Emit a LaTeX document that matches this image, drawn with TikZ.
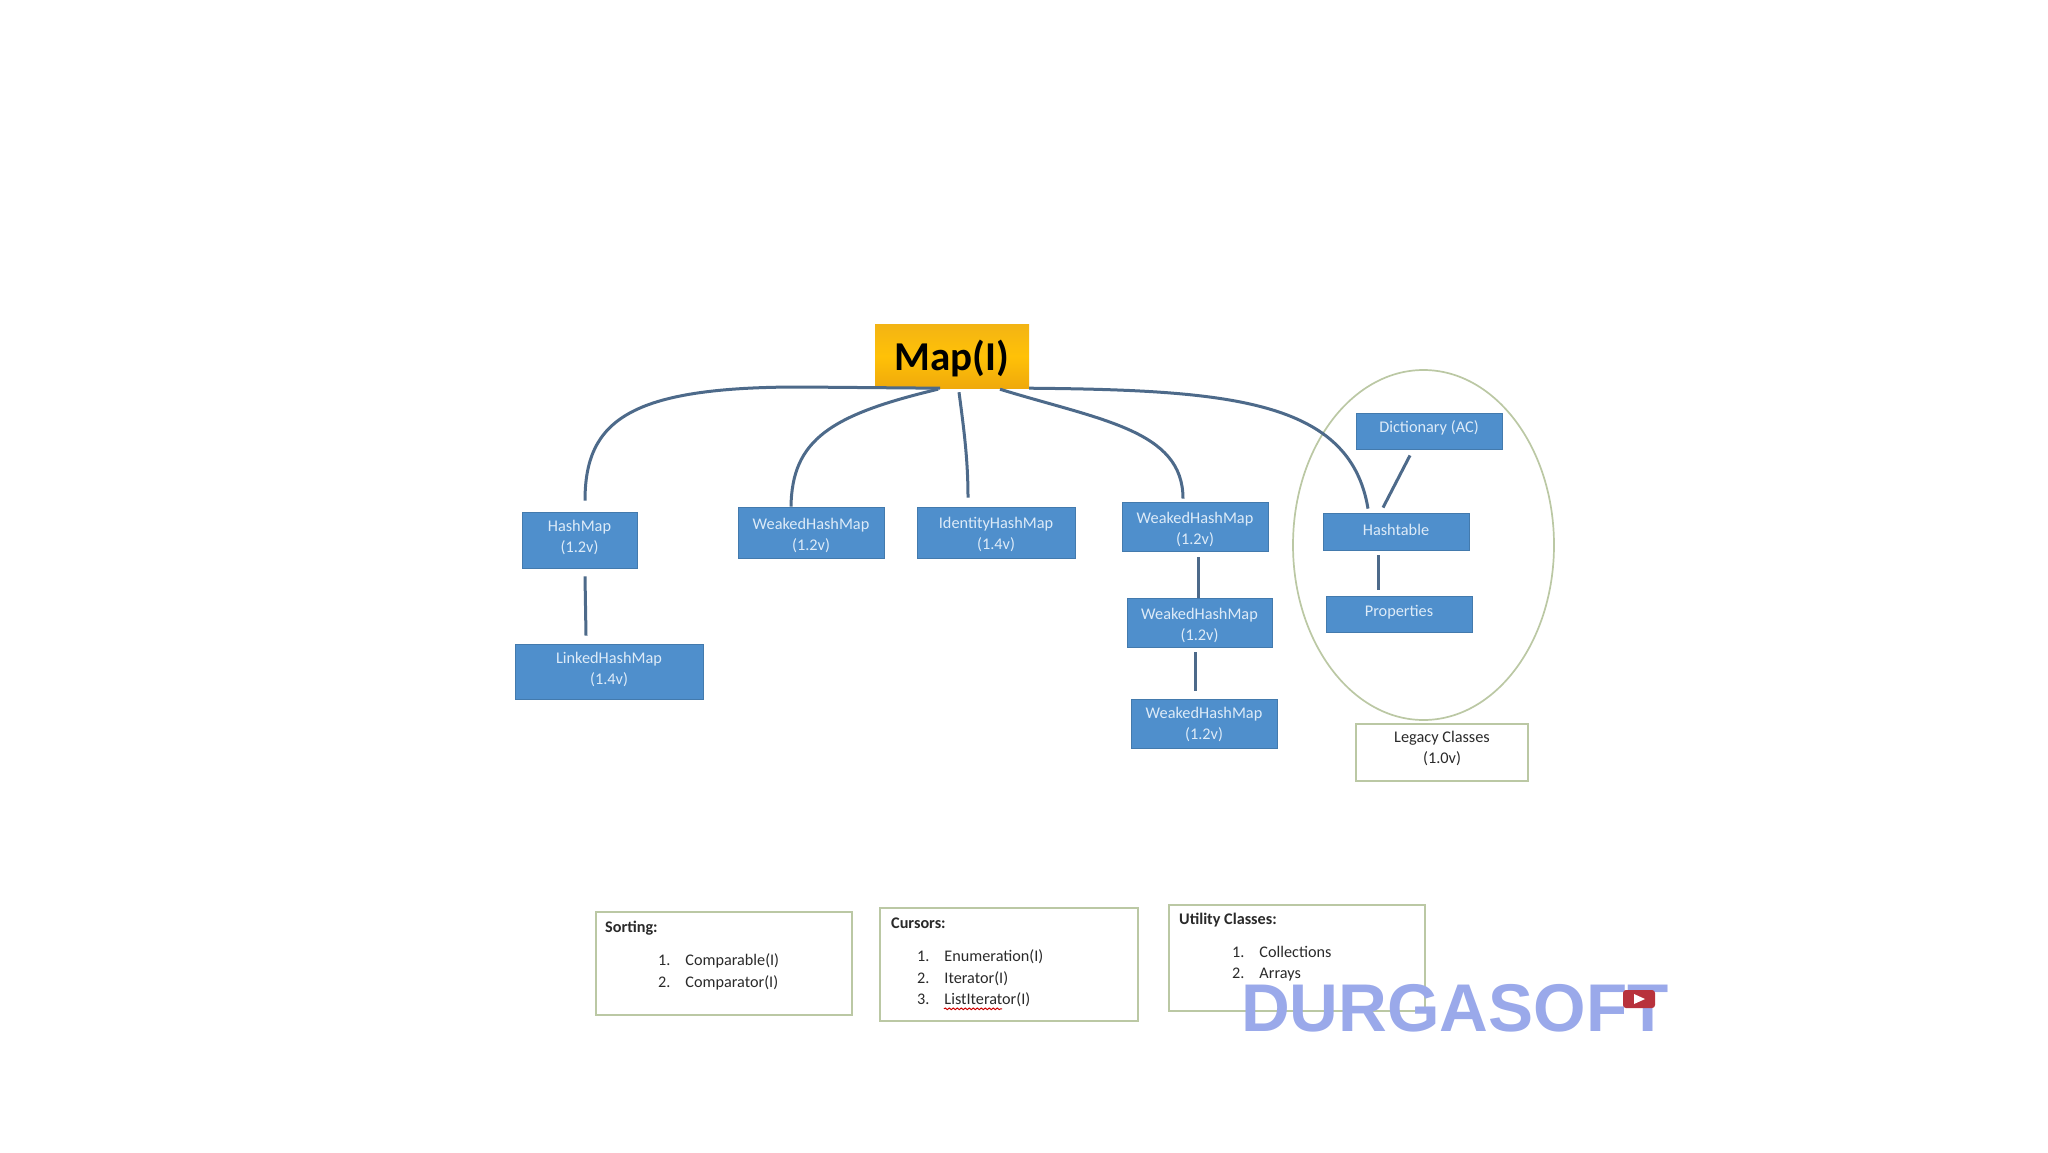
\documentclass[tikz,border=0pt]{standalone}
\usepackage{fontspec}
\setmainfont{Carlito}
\newfontfamily\wmfont{Liberation Sans}
\usetikzlibrary{shapes.geometric,calc,decorations.pathmorphing}
\definecolor{boxblue}{HTML}{4F8FCC}
\definecolor{boxtext}{HTML}{DDEBF8}
\definecolor{wire}{HTML}{4D6A8A}
\definecolor{olive}{HTML}{BBC8A4}
\definecolor{wmark}{HTML}{9AA9EA}
\definecolor{ink}{HTML}{2A2A2A}
\definecolor{goldtop}{HTML}{F3B414}
\definecolor{goldmid}{HTML}{FFC107}
\definecolor{goldbot}{HTML}{EFA90C}
\definecolor{ytred}{HTML}{B8323C}
\newcommand{\lowerby}[1]{\rule{0pt}{#1}}
\newcommand{\raiseby}[1]{\rule[-#1]{0pt}{#1}}
\tikzset{
  bluebox/.style={draw=boxblue!85!black,line width=0.8pt,fill=boxblue,text=boxtext,inner sep=0pt,align=center,font=\fontsize{16.3}{21}\selectfont},
  notebox/.style={draw=olive,line width=1.7pt,fill=white,inner sep=0pt},
  rowtext/.style={anchor=west,inner sep=0pt,text=ink,font=\fontsize{16.2}{20}\selectfont},
  titletext/.style={anchor=west,inner sep=0pt,text=ink,font=\bfseries\fontsize{16.2}{20}\selectfont},
  wireline/.style={draw=wire,line width=3pt},
}
\begin{document}
\begin{tikzpicture}[x=1pt,y=-1pt]
\useasboundingbox (0,0) rectangle (2048,1152);
\fill[white] (0,0) rectangle (2048,1152);
% ellipse and legacy
\node[ellipse,draw=olive,line width=1.7pt,inner sep=0pt,minimum width=261pt,minimum height=350pt] (legacyring) at (1423.5,545) {};
\node[notebox,minimum width=172pt,minimum height=57pt,align=center,text=ink,font=\fontsize{16.3}{21}\selectfont] (legacy) at (1442,752.5) {Legacy Classes\\(1.0v)\raiseby{10pt}};
% root
\node[top color=goldtop,bottom color=goldbot,middle color=goldmid,minimum width=154pt,minimum height=64pt,inner sep=0pt,font=\bfseries\fontsize{41}{46}\selectfont,text=black] (map) at (952,356) {\lowerby{36pt}Map(I)};
% blue boxes
\node[bluebox,minimum width=115pt,minimum height=56pt] (hash) at (579.5,540) {HashMap\\(1.2v)\raiseby{6.6pt}};
\node[bluebox,minimum width=188pt,minimum height=55pt] (linked) at (609,671.5) {LinkedHashMap\\(1.4v)\raiseby{6.6pt}};
\node[bluebox,minimum width=146pt,minimum height=51pt] (weak1) at (811,532.5) {\lowerby{17pt}WeakedHashMap\\(1.2v)};
\node[bluebox,minimum width=158pt,minimum height=51pt] (ident) at (996,532.5) {\lowerby{14.6pt}IdentityHashMap\\(1.4v)};
\node[bluebox,minimum width=146pt,minimum height=49pt] (weak2) at (1195,526.5) {\lowerby{17pt}WeakedHashMap\\(1.2v)};
\node[bluebox,minimum width=145pt,minimum height=49pt] (weak3) at (1199.5,622.5) {\lowerby{17pt}WeakedHashMap\\(1.2v)};
\node[bluebox,minimum width=146pt,minimum height=49pt] (weak4) at (1204,723.5) {\lowerby{13pt}WeakedHashMap\\(1.2v)};
\node[bluebox,minimum width=146pt,minimum height=36pt] (dict) at (1429,431) {Dictionary (AC)\raiseby{9pt}};
\node[bluebox,minimum width=146pt,minimum height=37pt] (htable) at (1396,531.5) {Hashtable\raiseby{2.6pt}};
\node[bluebox,minimum width=146pt,minimum height=36pt] (props) at (1399,614) {Properties\raiseby{6pt}};
% connectors
\draw[wireline] (hash.north) ++(5.5pt,11pt) coordinate (e1) (e1) .. controls (585,420) and (630,387) .. (800,387) -- ([xshift=-12pt]map.south);
\draw[wireline] ([xshift=-20pt]weak1.north) .. controls (792,440) and (830,415) .. ([xshift=-14pt,yshift=-1pt]map.south);
\draw[wireline] ([xshift=7pt,yshift=-4pt]map.south) .. controls (964,430) and (968,460) .. ([xshift=-28pt,yshift=9pt]ident.north);
\draw[wireline] ([xshift=48pt,yshift=-1pt]map.south) .. controls (1100,420) and (1183,430) .. ([xshift=-12pt,yshift=3pt]weak2.north);
\draw[wireline] (map.south east) .. controls (1230,390) and (1350,400) .. ([xshift=-28pt,yshift=4pt]htable.north);
\draw[wireline] ([xshift=5.5pt,yshift=-8pt]hash.south) -- ([xshift=-23pt,yshift=8pt]linked.north);
\draw[wireline] ([xshift=3pt,yshift=-6pt]weak2.south) -- ([xshift=-1.5pt]weak3.north);
\draw[wireline] ([xshift=-4.5pt,yshift=-5pt]weak3.south) -- ([xshift=-9pt,yshift=8pt]weak4.north);
\draw[wireline] ([xshift=-19pt,yshift=-6pt]dict.south) -- ([xshift=-13pt,yshift=5pt]htable.north);
\draw[wireline] ([xshift=-18pt,yshift=-5pt]htable.south) -- ([xshift=-21pt,yshift=6pt]props.north);
% note boxes
\node[notebox,minimum width=256pt,minimum height=103pt] (sorting) at (724,963.5) {};
\node[titletext] (sortt) at (605,928) {Sorting:};
\node[rowtext] (sort1) at (658,961) {1.\hspace{15pt}Comparable(I)};
\node[rowtext] (sort2) at (658,983) {2.\hspace{15pt}Comparator(I)};
\node[notebox,minimum width=258pt,minimum height=113pt] (cursors) at (1009,964.5) {};
\node[titletext] (curt) at (891,923) {Cursors:};
\node[rowtext] (cur1) at (917,957) {1.\hspace{15pt}Enumeration(I)};
\node[rowtext] (cur2) at (917,979) {2.\hspace{15pt}Iterator(I)};
\node[rowtext] (cur3) at (917,1000) {3.\hspace{15pt}ListIterator(I)};
\draw[red!80!black,line width=1pt,decorate,decoration={snake,amplitude=0.8pt,segment length=4pt}] ([xshift=27pt,yshift=-4pt]cur3.base west) -- ([xshift=85pt,yshift=-4pt]cur3.base west);
\node[notebox,minimum width=256pt,minimum height=106pt] (utility) at (1297,958) {};
\node[titletext] (utilt) at (1179,920) {Utility Classes:};
\node[rowtext] (util1) at (1232,952) {1.\hspace{15pt}Collections};
\node[rowtext] (util2) at (1232,975) {2.\hspace{15pt}Arrays};
% watermark
\node[anchor=base west,inner sep=0pt,text height=48pt,text depth=0pt,text=wmark,font=\wmfont\bfseries\fontsize{67.5}{70}\selectfont] (wm) at (1241,1031) {DURGASOFT};
\node[fill=ytred,rounded corners=3pt,minimum width=32pt,minimum height=18pt,inner sep=0pt] (yt) at (1639,999) {};
\fill[white] ([xshift=-5pt,yshift=-5pt]yt.center) -- ([xshift=6pt]yt.center) -- ([xshift=-5pt,yshift=5pt]yt.center) -- cycle;
\end{tikzpicture}
\end{document}
